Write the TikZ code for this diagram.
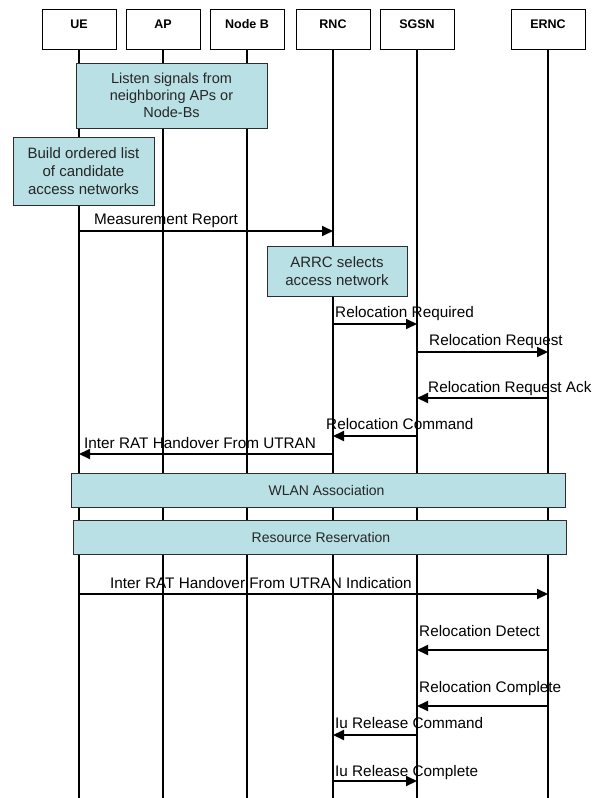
\documentclass[tikz,border=0pt]{standalone}
\usepackage{fontspec}
\setmainfont{Liberation Sans}
\usetikzlibrary{arrows.meta}
\definecolor{notefill}{RGB}{185,224,228}
\definecolor{noteedge}{RGB}{45,45,45}
\begin{document}
\begin{tikzpicture}[x=1pt,y=-1pt,
  entity/.style={draw=black, line width=0.9pt, minimum width=74pt, minimum height=39.7pt, inner sep=0pt},
  entitytxt/.style={font=\fontsize{12.5}{14}\selectfont\bfseries, inner sep=0pt, anchor=base},
  life/.style={line width=1.1pt},
  note/.style={draw=noteedge, fill=notefill, line width=1pt, inner sep=0pt, align=center,
               font=\fontsize{15}{18}\selectfont, text=black!85},
  notetxt/.style={inner sep=0pt, font=\fontsize{14}{17}\selectfont, text=black!85},
  msg/.style={line width=2pt, -{Triangle[length=11pt,width=10pt]}},
  msgtxt/.style={font=\fontsize{15.3}{18}\selectfont, inner sep=0pt, anchor=base west},
]
\fill[white] (0,0) rectangle (595,798);
\useasboundingbox (0,0) rectangle (595,798);

% participants
\node[entity] (ue)   at (79,29.2)  {};
\node[entity] (ap)   at (163,29.2) {};
\node[entity] (nb)   at (247,29.2) {};
\node[entity] (rnc)  at (333,29.2) {};
\node[entity] (sgsn) at (417,29.2) {};
\node[entity] (ernc) at (548,29.2) {};
\node[entitytxt] (ue-t)   at (79,28.3)  {UE};
\node[entitytxt] (ap-t)   at (163,28.3) {AP};
\node[entitytxt] (nb-t)   at (247,28.3) {Node B};
\node[entitytxt] (rnc-t)  at (333,28.3) {RNC};
\node[entitytxt] (sgsn-t) at (417,28.3) {SGSN};
\node[entitytxt] (ernc-t) at (548,28.3) {ERNC};

% lifelines
\coordinate (bot) at (0,798);
\foreach \p in {ue,ap,nb,rnc,sgsn,ernc}
  \draw[life] (\p.south) -- (\p |- bot);

% local actions
\node[note, minimum width=191pt, minimum height=65pt, font=\fontsize{14.5}{17}\selectfont] (listen) at (171.5,95.5)
  {Listen signals from\\neighboring APs or\\Node-Bs};
\node[note, minimum width=141pt, minimum height=68pt] (build) at (83.5,171)
  {Build ordered list\\of candidate\\access networks};
\node[note, minimum width=140pt, minimum height=50pt] (arrc) at (337,271)
  {ARRC selects\\access network};
\node[note, minimum width=494pt, minimum height=34pt] (wlan) at (318,490) {};
\node[notetxt] (wlan-t) at ([xshift=8.5pt]wlan.center) {WLAN Association};
\node[note, minimum width=493pt, minimum height=34pt] (resv) at (319.5,537) {};
\node[notetxt] (resv-t) at ([xshift=1.5pt]resv.center) {Resource Reservation};

% message rows
\coordinate (r1)  at (0,231);
\coordinate (r2)  at (0,324);
\coordinate (r3)  at (0,352);
\coordinate (r4)  at (0,398);
\coordinate (r5)  at (0,436);
\coordinate (r6)  at (0,454);
\coordinate (r7)  at (0,594);
\coordinate (r8)  at (0,650);
\coordinate (r9)  at (0,706);
\coordinate (r10) at (0,735);
\coordinate (r11) at (0,781);

% messages
\draw[msg] (ue |- r1)    -- (rnc |- r1);
\draw[msg] (rnc |- r2)   -- (sgsn |- r2);
\draw[msg] (sgsn |- r3)  -- (ernc |- r3);
\draw[msg] (ernc |- r4)  -- (sgsn |- r4);
\draw[msg] (sgsn |- r5)  -- (rnc |- r5);
\draw[msg] (rnc |- r6)   -- (ue |- r6);
\draw[msg] (ue |- r7)    -- (ernc |- r7);
\draw[msg] (ernc |- r8)  -- (sgsn |- r8);
\draw[msg] (ernc |- r9)  -- (sgsn |- r9);
\draw[msg] (sgsn |- r10) -- (rnc |- r10);
\draw[msg] (rnc |- r11)  -- (sgsn |- r11);

% message labels
\node[msgtxt] (l1)  at (94,224)  {Measurement Report};
\node[msgtxt] (l2)  at (335,317) {Relocation Required};
\node[msgtxt] (l3)  at (429,345) {Relocation Request};
\node[msgtxt] (l4)  at (428,392) {Relocation Request Ack};
\node[msgtxt] (l5)  at (326,429) {Relocation Command};
\node[msgtxt] (l6)  at (84,448)  {Inter RAT Handover From UTRAN};
\node[msgtxt] (l7)  at (110,588) {Inter RAT Handover From UTRAN Indication};
\node[msgtxt] (l8)  at (419,636) {Relocation Detect};
\node[msgtxt] (l9)  at (419,692) {Relocation Complete};
\node[msgtxt] (l10) at (335,728) {Iu Release Command};
\node[msgtxt] (l11) at (335,776) {Iu Release Complete};
\end{tikzpicture}
\end{document}
